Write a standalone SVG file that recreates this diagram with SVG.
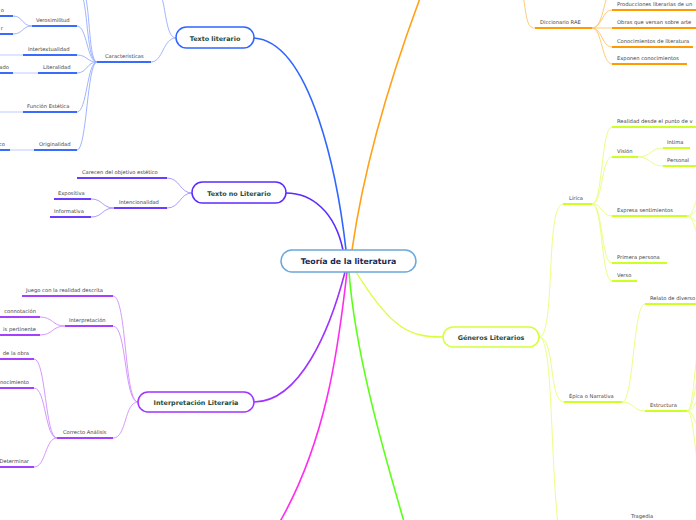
<svg xmlns="http://www.w3.org/2000/svg" width="696" height="520" viewBox="0 0 696 520">
<style>
.t{font-family:"DejaVu Sans",Verdana,sans-serif;font-size:5.2px;fill:#444}
.e{text-anchor:end}
.mt{font-family:"DejaVu Sans",Verdana,sans-serif;font-size:6.4px;font-weight:bold;fill:#1d4a3a;text-anchor:middle}
.ct{font-family:"DejaVu Sans",Verdana,sans-serif;font-size:7.8px;font-weight:bold;fill:#1a2850;text-anchor:middle}
path,line{fill:none}
.mb{stroke:#2f66ff;stroke-width:1.6}
.mp{stroke:#5b2bff;stroke-width:1.6}
.mo{stroke:#ffa21a;stroke-width:1.6}
.mv{stroke:#a033ff;stroke-width:1.6}
.mm{stroke:#ff2cf0;stroke-width:1.6}
.mg{stroke:#5cff1a;stroke-width:1.6}
.my{stroke:#d8ff3a;stroke-width:1.4}
.cb{stroke:#94adff;stroke-width:0.9}
.cp{stroke:#a68fff;stroke-width:0.9}
.co{stroke:#ffc46a;stroke-width:0.9}
.cv{stroke:#cf8dff;stroke-width:0.9}
.cy{stroke:#e4ff78;stroke-width:0.9}
.ub{stroke:#3a6bff;stroke-width:2}
.up{stroke:#6a3cff;stroke-width:2}
.uo{stroke:#ff9a00;stroke-width:2}
.uv{stroke:#a540ff;stroke-width:2}
.uy{stroke:#ccff22;stroke-width:2}
.nb{fill:#fff;stroke-width:1.5}
</style>
<rect width="696" height="520" fill="#fff"/>
<g id="connectors">
<path class="mb" d="M346,250 C338,180 312,42 254,38"/>
<path class="mp" d="M343,250 C335,212 312,193 286,193"/>
<path class="mo" d="M352,250 C362,180 385,90 425,-15"/>
<path class="mv" d="M345,272 C330,330 300,402 254,402"/>
<path class="mm" d="M347,272 C340,330 330,440 275,530"/>
<path class="mg" d="M349,272 C355,350 380,440 405,525"/>
<path class="my" d="M356,272 C392,330 410,337 443,337"/>
<path class="cb" d="M176,38 C163,38 163,62 151,62"/>
<path class="cb" d="M176,38 C166,38 166,8 161,-5"/>
<path class="cb" d="M97,62 C87,62 87,26 77,26"/>
<path class="cb" d="M97,62 C87,62 87,55 77,55"/>
<path class="cb" d="M97,62 C87,62 87,73 77,73"/>
<path class="cb" d="M97,62 C87,62 87,112 77,112"/>
<path class="cb" d="M97,62 C87,62 87,150 77,150"/>
<path class="cb" d="M97,62 C87,62 88,10 82,-5"/>
<path class="cb" d="M97,62 C89,62 90,10 85,-5"/>
<path class="cb" d="M32,26 C22,26 23,16 13,16"/>
<path class="cb" d="M32,26 C22,26 23,34 13,34"/>
<line class="cb" x1="0" y1="55" x2="23" y2="55" stroke-opacity="0.7"/>
<line class="cb" x1="13" y1="73" x2="38" y2="73" stroke-opacity="0.7"/>
<line class="cb" x1="0" y1="112" x2="23" y2="112" stroke-opacity="0.7"/>
<line class="cb" x1="10" y1="150" x2="34" y2="150" stroke-opacity="0.7"/>
<path class="cp" d="M192,193 C180,193 180,178 167,178"/>
<path class="cp" d="M192,193 C180,193 180,208 167,208"/>
<path class="cp" d="M114,208 C102,208 103,199 91,199"/>
<path class="cp" d="M114,208 C102,208 103,217 91,217"/>
<path class="cv" d="M138,402 C124,402 127,296 113,296"/>
<path class="cv" d="M138,402 C124,402 127,326 113,326"/>
<path class="cv" d="M138,402 C124,402 127,438 113,438"/>
<path class="cv" d="M65,326 C52,326 53,317 40,317"/>
<path class="cv" d="M65,326 C52,326 53,335 40,335"/>
<path class="cv" d="M57,438 C45,438 46,359 34,359"/>
<path class="cv" d="M57,438 C45,438 46,388 34,388"/>
<path class="cv" d="M57,438 C45,438 46,467 34,467"/>
<path class="co" d="M523,-5 C527,20 527,28 535,28"/>
<path class="co" d="M592,28 C602,28 602,10 612,10"/>
<line class="co" x1="592" y1="28" x2="612" y2="28"/>
<path class="co" d="M592,28 C602,28 602,47 612,47"/>
<path class="co" d="M592,28 C602,28 602,64 612,64"/>
<path class="co" d="M592,28 C602,28 603,5 608,-5"/>
<path class="cy" d="M539,337 C556,337 545,204 563,204"/>
<path class="cy" d="M539,337 C556,337 548,402 564,402"/>
<path class="cy" d="M539,337 C553,337 550,450 558,525"/>
<path class="cy" d="M592,204 C603,204 601,127 612,127"/>
<path class="cy" d="M592,204 C603,204 601,157 612,157"/>
<path class="cy" d="M592,204 C603,204 601,216 612,216"/>
<path class="cy" d="M592,204 C603,204 601,263 612,263"/>
<path class="cy" d="M592,204 C603,204 601,281 612,281"/>
<path class="cy" d="M638,157 C651,157 650,148 663,148"/>
<path class="cy" d="M638,157 C651,157 650,166 663,166"/>
<path class="cy" d="M687,216 C694,216 694,200 702,190"/>
<path class="cy" d="M687,216 C694,216 696,208 702,205"/>
<path class="cy" d="M687,216 C694,216 696,224 702,226"/>
<path class="cy" d="M687,216 C694,216 694,232 702,242"/>
<path class="cy" d="M622,402 C634,402 633,304 645,304"/>
<path class="cy" d="M622,402 C634,402 633,411 645,411"/>
<path class="cy" d="M687,411 C694,411 694,360 700,340"/>
<path class="cy" d="M687,411 C694,411 695,380 700,370"/>
<path class="cy" d="M687,411 C694,411 696,400 700,396"/>
<path class="cy" d="M687,411 C694,411 695,425 700,430"/>
<path class="cy" d="M687,411 C694,411 694,455 700,472"/>
</g>
<g id="n-central">
<rect class="nb" x="281" y="250" width="135" height="22" rx="11" stroke="#6aa8dc"/>
<text class="ct" x="348.5" y="264">Teoría de la literatura</text>
</g>
<g id="n-texto-literario">
<rect class="nb" x="176" y="27" width="78" height="21" rx="10.5" stroke="#2f66ff"/>
<text class="mt" x="215" y="40.5">Texto literario</text>
</g>
<g id="n-caracteristicas"><line class="ub" x1="97" y1="62" x2="151" y2="62"/><text class="t" x="105" y="58">Características</text></g>
<g id="n-verosimilitud"><line class="ub" x1="32" y1="26" x2="77" y2="26"/><text class="t" x="36" y="22">Verosimilitud</text></g>
<g id="n-v1"><line class="ub" x1="0" y1="16" x2="13" y2="16"/><text class="t e" x="4" y="12">o</text></g>
<g id="n-v2"><line class="ub" x1="0" y1="34" x2="13" y2="34"/><text class="t e" x="3" y="30">r</text></g>
<g id="n-intertextualidad"><line class="ub" x1="23" y1="55" x2="77" y2="55"/><text class="t" x="28" y="51">Intertextualidad</text></g>
<g id="n-literalidad"><line class="ub" x1="38" y1="73" x2="77" y2="73"/><text class="t" x="43" y="69">Literalidad</text></g>
<g id="n-l1"><line class="ub" x1="0" y1="73" x2="13" y2="73"/><text class="t e" x="9" y="69">ado</text></g>
<g id="n-funcion"><line class="ub" x1="23" y1="112" x2="77" y2="112"/><text class="t" x="27" y="108">Función Estética</text></g>
<g id="n-originalidad"><line class="ub" x1="34" y1="150" x2="77" y2="150"/><text class="t" x="39" y="146">Originalidad</text></g>
<g id="n-o1"><line class="ub" x1="0" y1="150" x2="10" y2="150"/><text class="t e" x="5" y="146">co</text></g>
<g id="n-texto-no-literario">
<rect class="nb" x="192" y="182" width="94" height="21" rx="10.5" stroke="#5b2bff"/>
<text class="mt" x="239" y="195.5">Texto no Literario</text>
</g>
<g id="n-carecen"><line class="up" x1="77" y1="178" x2="167" y2="178"/><text class="t" x="82" y="174">Carecen del objetivo estético</text></g>
<g id="n-intencionalidad"><line class="up" x1="114" y1="208" x2="167" y2="208"/><text class="t" x="119" y="204">Intencionalidad</text></g>
<g id="n-expositiva"><line class="up" x1="54" y1="199" x2="91" y2="199"/><text class="t" x="58" y="195">Expositiva</text></g>
<g id="n-informativa"><line class="up" x1="50" y1="217" x2="91" y2="217"/><text class="t" x="54" y="213">Informativa</text></g>
<g id="n-interpretacion-literaria">
<rect class="nb" x="138" y="392" width="116" height="20" rx="10" stroke="#a033ff"/>
<text class="mt" x="196" y="404.5">Interpretación Literaria</text>
</g>
<g id="n-juego"><line class="uv" x1="22" y1="296" x2="113" y2="296"/><text class="t" x="26" y="292">Juego con la realidad descrita</text></g>
<g id="n-interpretacion"><line class="uv" x1="65" y1="326" x2="113" y2="326"/><text class="t" x="69" y="322">Interpretación</text></g>
<g id="n-connotacion"><line class="uv" x1="0" y1="317" x2="40" y2="317"/><text class="t e" x="36" y="313">connotación</text></g>
<g id="n-pertinente"><line class="uv" x1="0" y1="335" x2="40" y2="335"/><text class="t e" x="36" y="331">is pertinente</text></g>
<g id="n-correcto"><line class="uv" x1="57" y1="438" x2="113" y2="438"/><text class="t" x="63" y="434">Correcto Análisis</text></g>
<g id="n-obra"><line class="uv" x1="0" y1="359" x2="34" y2="359"/><text class="t e" x="29" y="355">de la obra</text></g>
<g id="n-conocimiento"><line class="uv" x1="0" y1="388" x2="34" y2="388"/><text class="t e" x="29" y="384">nocimiento</text></g>
<g id="n-determinar"><line class="uv" x1="0" y1="467" x2="34" y2="467"/><text class="t e" x="29" y="463">Determinar</text></g>
<g id="n-diccionario"><line class="uo" x1="535" y1="28" x2="592" y2="28"/><text class="t" x="540" y="24">Diccionario RAE</text></g>
<g id="n-producciones"><line class="uo" x1="612" y1="10" x2="700" y2="10"/><text class="t" x="617" y="6">Producciones literarias de un</text></g>
<g id="n-obras"><line class="uo" x1="612" y1="28" x2="700" y2="28"/><text class="t" x="617" y="24">Obras que versan sobre arte</text></g>
<g id="n-conocimientos"><line class="uo" x1="612" y1="47" x2="693" y2="47"/><text class="t" x="617" y="43">Conocimientos de literatura</text></g>
<g id="n-exponen"><line class="uo" x1="612" y1="64" x2="687" y2="64"/><text class="t" x="617" y="60">Exponen conocimientos</text></g>
<g id="n-generos">
<rect class="nb" x="443" y="327" width="96" height="20" rx="10" stroke="#d4ff3a"/>
<text class="mt" x="491" y="339.5">Géneros Literarios</text>
</g>
<g id="n-lirica"><line class="uy" x1="563" y1="204" x2="592" y2="204"/><text class="t" x="569" y="200">Lírica</text></g>
<g id="n-realidad"><line class="uy" x1="612" y1="127" x2="700" y2="127"/><text class="t" x="617" y="123">Realidad desde el punto de v</text></g>
<g id="n-vision"><line class="uy" x1="612" y1="157" x2="638" y2="157"/><text class="t" x="617" y="153">Visión</text></g>
<g id="n-intima"><line class="uy" x1="663" y1="148" x2="690" y2="148"/><text class="t" x="667" y="144">Intima</text></g>
<g id="n-personal"><line class="uy" x1="663" y1="166" x2="700" y2="166"/><text class="t" x="667" y="162">Personal</text></g>
<g id="n-expresa"><line class="uy" x1="612" y1="216" x2="687" y2="216"/><text class="t" x="617" y="212">Expresa sentimientos</text></g>
<g id="n-primera"><line class="uy" x1="612" y1="263" x2="667" y2="263"/><text class="t" x="617" y="259">Primera persona</text></g>
<g id="n-verso"><line class="uy" x1="612" y1="281" x2="637" y2="281"/><text class="t" x="617" y="277">Verso</text></g>
<g id="n-epica"><line class="uy" x1="564" y1="402" x2="622" y2="402"/><text class="t" x="569" y="398">Épica o Narrativa</text></g>
<g id="n-relato"><line class="uy" x1="645" y1="304" x2="700" y2="304"/><text class="t" x="650" y="300">Relato de diverso</text></g>
<g id="n-estructura"><line class="uy" x1="645" y1="411" x2="687" y2="411"/><text class="t" x="650" y="407">Estructura</text></g>
<g id="n-tragedia"><text class="t" x="631" y="518">Tragedia</text></g>
</svg>
